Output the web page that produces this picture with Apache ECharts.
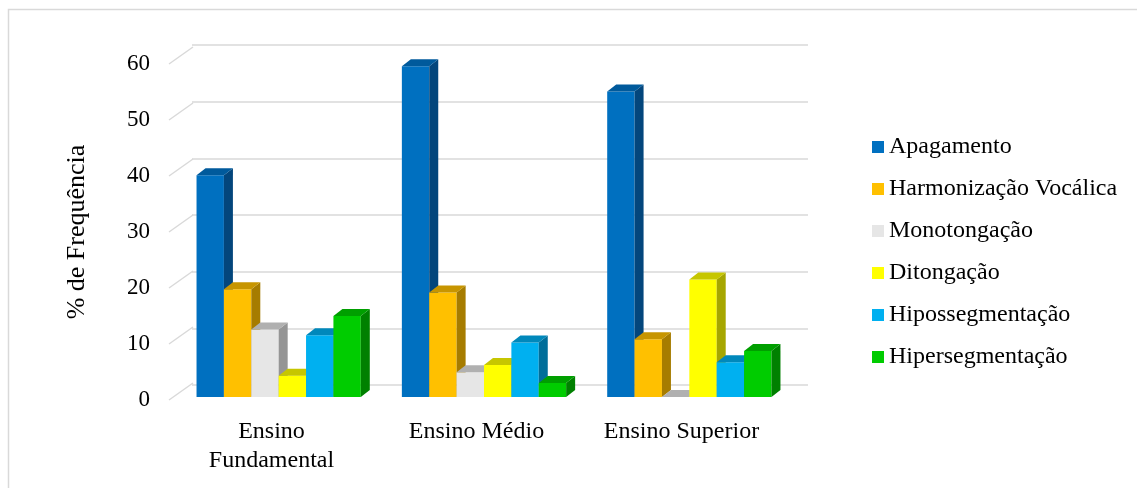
<!DOCTYPE html>
<html>
<head>
<meta charset="utf-8">
<script src="https://cdn.jsdelivr.net/npm/echarts@6/dist/echarts.min.js"></script>
<style>html,body{margin:0;padding:0;background:#fff;}#c{width:1137px;height:488px;}</style>
</head>
<body>
<div id="c"></div>
<script>
const categories = ['Ensino\nFundamental', 'Ensino Médio', 'Ensino Superior'];
const seriesNames = ['Apagamento', 'Harmonização Vocálica', 'Monotongação', 'Ditongação', 'Hipossegmentação', 'Hipersegmentação'];
const apagamento = [39.5, 58.9, 54.4];
const harmonizacao = [19.2, 18.6, 10.3];
const monotongacao = [12.0, 4.4, 0];
const ditongacao = [3.8, 5.7, 20.9];
const hipossegmentacao = [11.0, 9.7, 6.2];
const hipersegmentacao = [14.4, 2.5, 8.2];
const yTicks = [0, 10, 20, 30, 40, 50, 60];

const seriesValues = [apagamento, harmonizacao, monotongacao, ditongacao, hipossegmentacao, hipersegmentacao];
const faceColors = [
  ['#0070C0', '#005A9C', '#03467C'],
  ['#FFC000', '#C79500', '#A67C00'],
  ['#E6E6E6', '#B0B0B0', '#959595'],
  ['#FFFF00', '#C6C600', '#A6A600'],
  ['#00B0F0', '#0088BB', '#006E9A'],
  ['#00CC00', '#009F00', '#008000']
];
const FONT = 'Liberation Serif';
const DX = 9, DY = -7;
const NS = seriesNames.length;

function barRender(si) {
  return function (params, api) {
    const ci = api.value(0);
    const v = api.value(1);
    const base = api.coord([ci, 0]);
    const top = api.coord([ci, v]);
    const band = api.size([1, 0])[0];
    const bw = band * 0.8 / NS;
    const x0 = base[0] - band * 0.4 + si * bw;
    const x1 = x0 + bw;
    const yb = base[1], yt = top[1];
    const c = faceColors[si];
    return {
      type: 'group',
      children: [
        { type: 'rect', shape: { x: x0, y: yt, width: bw, height: yb - yt }, style: { fill: c[0] } },
        { type: 'polygon', shape: { points: [[x1, yt], [x1 + DX, yt + DY], [x1 + DX, yb + DY], [x1, yb]] }, style: { fill: c[2] } },
        { type: 'polygon', shape: { points: [[x0, yt], [x0 + DX, yt + DY], [x1 + DX, yt + DY], [x1, yt]] }, style: { fill: c[1] } }
      ]
    };
  };
}

const series = seriesNames.map((name, si) => ({
  name: name,
  type: 'custom',
  xAxisIndex: 0,
  yAxisIndex: 0,
  itemStyle: { color: faceColors[si][0] },
  renderItem: barRender(si),
  data: seriesValues[si].map((v, i) => [i, v]),
  z: 5
}));

// diagonal tick connectors from the front label plane to the back wall
series.push({
  type: 'custom',
  xAxisIndex: 2,
  yAxisIndex: 2,
  silent: true,
  renderItem: function (params, api) {
    const y = api.coord([0, api.value(1)])[1];
    const x = params.coordSys.x;
    return { type: 'line', shape: { x1: x, y1: y, x2: x + 24, y2: y - 17 }, style: { stroke: '#d9d9d9', lineWidth: 1.5 } };
  },
  data: yTicks.map(t => [0, t]),
  z: 1
});

const chart = echarts.init(document.getElementById('c'), null, { renderer: 'canvas' });
chart.setOption({
  animation: false,
  backgroundColor: '#fff',
  graphic: [{ type: 'rect', shape: { x: 8.5, y: 9.5, width: 1140, height: 490 }, style: { fill: null, stroke: '#d9d9d9', lineWidth: 1.5 }, silent: true, z: 0 }],
  grid: [
    { left: 176, right: 345, top: 60, bottom: 91 },
    { left: 192, right: 329, top: 45, bottom: 103 },
    { left: 169, right: 353, top: 64, bottom: 88 }
  ],
  xAxis: [
    { gridIndex: 0, type: 'category', data: categories, show: false },
    { gridIndex: 1, type: 'category', data: categories, show: false },
    { gridIndex: 2, type: 'category', data: categories,
      axisLine: { show: false }, axisTick: { show: false },
      axisLabel: { margin: 17, fontFamily: FONT, fontSize: 24, color: '#000', lineHeight: 29, interval: 0 } }
  ],
  yAxis: [
    { gridIndex: 0, type: 'value', min: 0, max: 60, interval: 10, show: false },
    { gridIndex: 1, type: 'value', min: 0, max: 60, interval: 10,
      axisLine: { show: false }, axisTick: { show: false }, axisLabel: { show: false },
      splitLine: { show: true, lineStyle: { color: '#d9d9d9', width: 1.5 } } },
    { gridIndex: 2, type: 'value', min: 0, max: 60, interval: 10,
      axisLine: { show: false }, axisTick: { show: false }, splitLine: { show: false },
      axisLabel: { margin: 19, fontFamily: FONT, fontSize: 23, color: '#000' },
      name: '% de Frequência', nameLocation: 'middle', nameGap: 79,
      nameTextStyle: { fontFamily: FONT, fontSize: 26, color: '#000' } }
  ],
  legend: {
    orient: 'vertical', left: 867, top: 128, itemGap: 14, itemWidth: 12, itemHeight: 12, icon: 'rect',
    data: seriesNames,
    textStyle: { fontFamily: FONT, fontSize: 24, color: '#000', lineHeight: 28 }
  },
  series: series
});
</script>
</body>
</html>
